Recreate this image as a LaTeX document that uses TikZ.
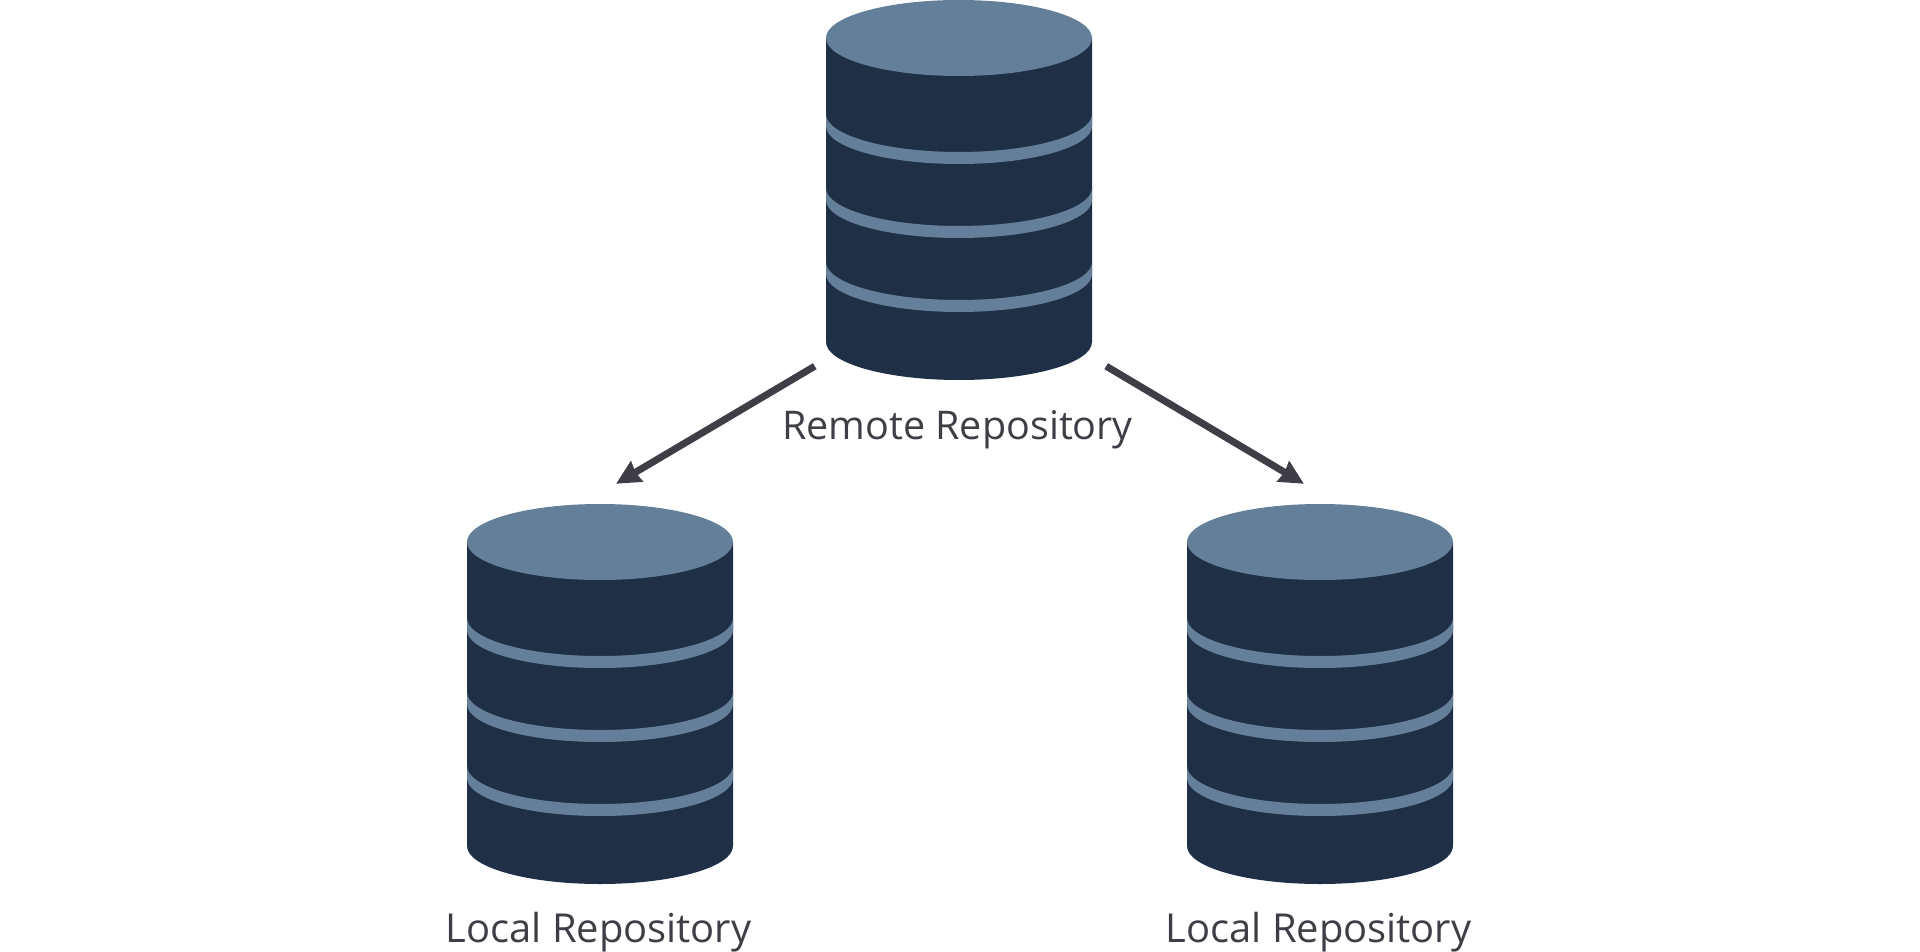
\documentclass[tikz,border=0pt]{standalone}
\usepackage{fontspec}
\setmainfont{Open Sans}
\usetikzlibrary{arrows.meta}

\definecolor{repodark}{HTML}{1F2F45}
\definecolor{repolight}{HTML}{647F99}
\definecolor{repotext}{HTML}{3F3E46}

\tikzset{
    repobox/.style={inner sep=0pt, minimum width=266pt, minimum height=380pt},
    repolabel/.style={anchor=base, text=repotext, inner sep=0pt},
    flow/.style={draw=repotext, line width=7pt, -{Stealth[length=24pt, width=23pt, inset=1.5pt]}}
}

\begin{document}
\begin{tikzpicture}[x=1pt, y=-1pt]
            \useasboundingbox (0,0) rectangle (1920,952);

            \foreach \name/\cx/\cy/\ly/\fs/\txt in {remote/959/0/439/39.5/Remote Repository, localA/600/504/438/39.9/Local Repository, localB/1320/504/438/39.9/Local Repository} {
                \begin{scope}[shift={(\cx,\cy)}]
                    \fill[repodark] (-133,38) -- (-133,342) arc[start angle=180, end angle=0, x radius=133, y radius=38] -- (133,38) -- cycle;
                    \foreach \by in {114,188,262} {
                        \fill[repolight] (-133,\by) arc[start angle=180, end angle=0, x radius=133, y radius=38] -- (133,\by+12) arc[start angle=0, end angle=180, x radius=133, y radius=38] -- cycle;
                    }
                    \fill[repolight] (0,38) ellipse [x radius=133, y radius=38];
                    \node (\name) at (0,190) [repobox] {};
                    \node (\name label) at (-1.5,\ly) [repolabel, font=\fontsize{\fs pt}{44pt}\selectfont] {\txt};
                \end{scope}
            }

            \coordinate (leftstart) at ([shift={(-11,-14)}]remote.south west);
            \coordinate (rightstart) at ([shift={(14,-14)}]remote.south east);
            \coordinate (lefttip) at ([shift={(16,-20)}]localA.north);
            \coordinate (righttip) at ([shift={(-16,-20)}]localB.north);

            \draw[flow] (leftstart) -- (lefttip);
            \draw[flow] (rightstart) -- (righttip);
        \end{tikzpicture}
\end{document}
